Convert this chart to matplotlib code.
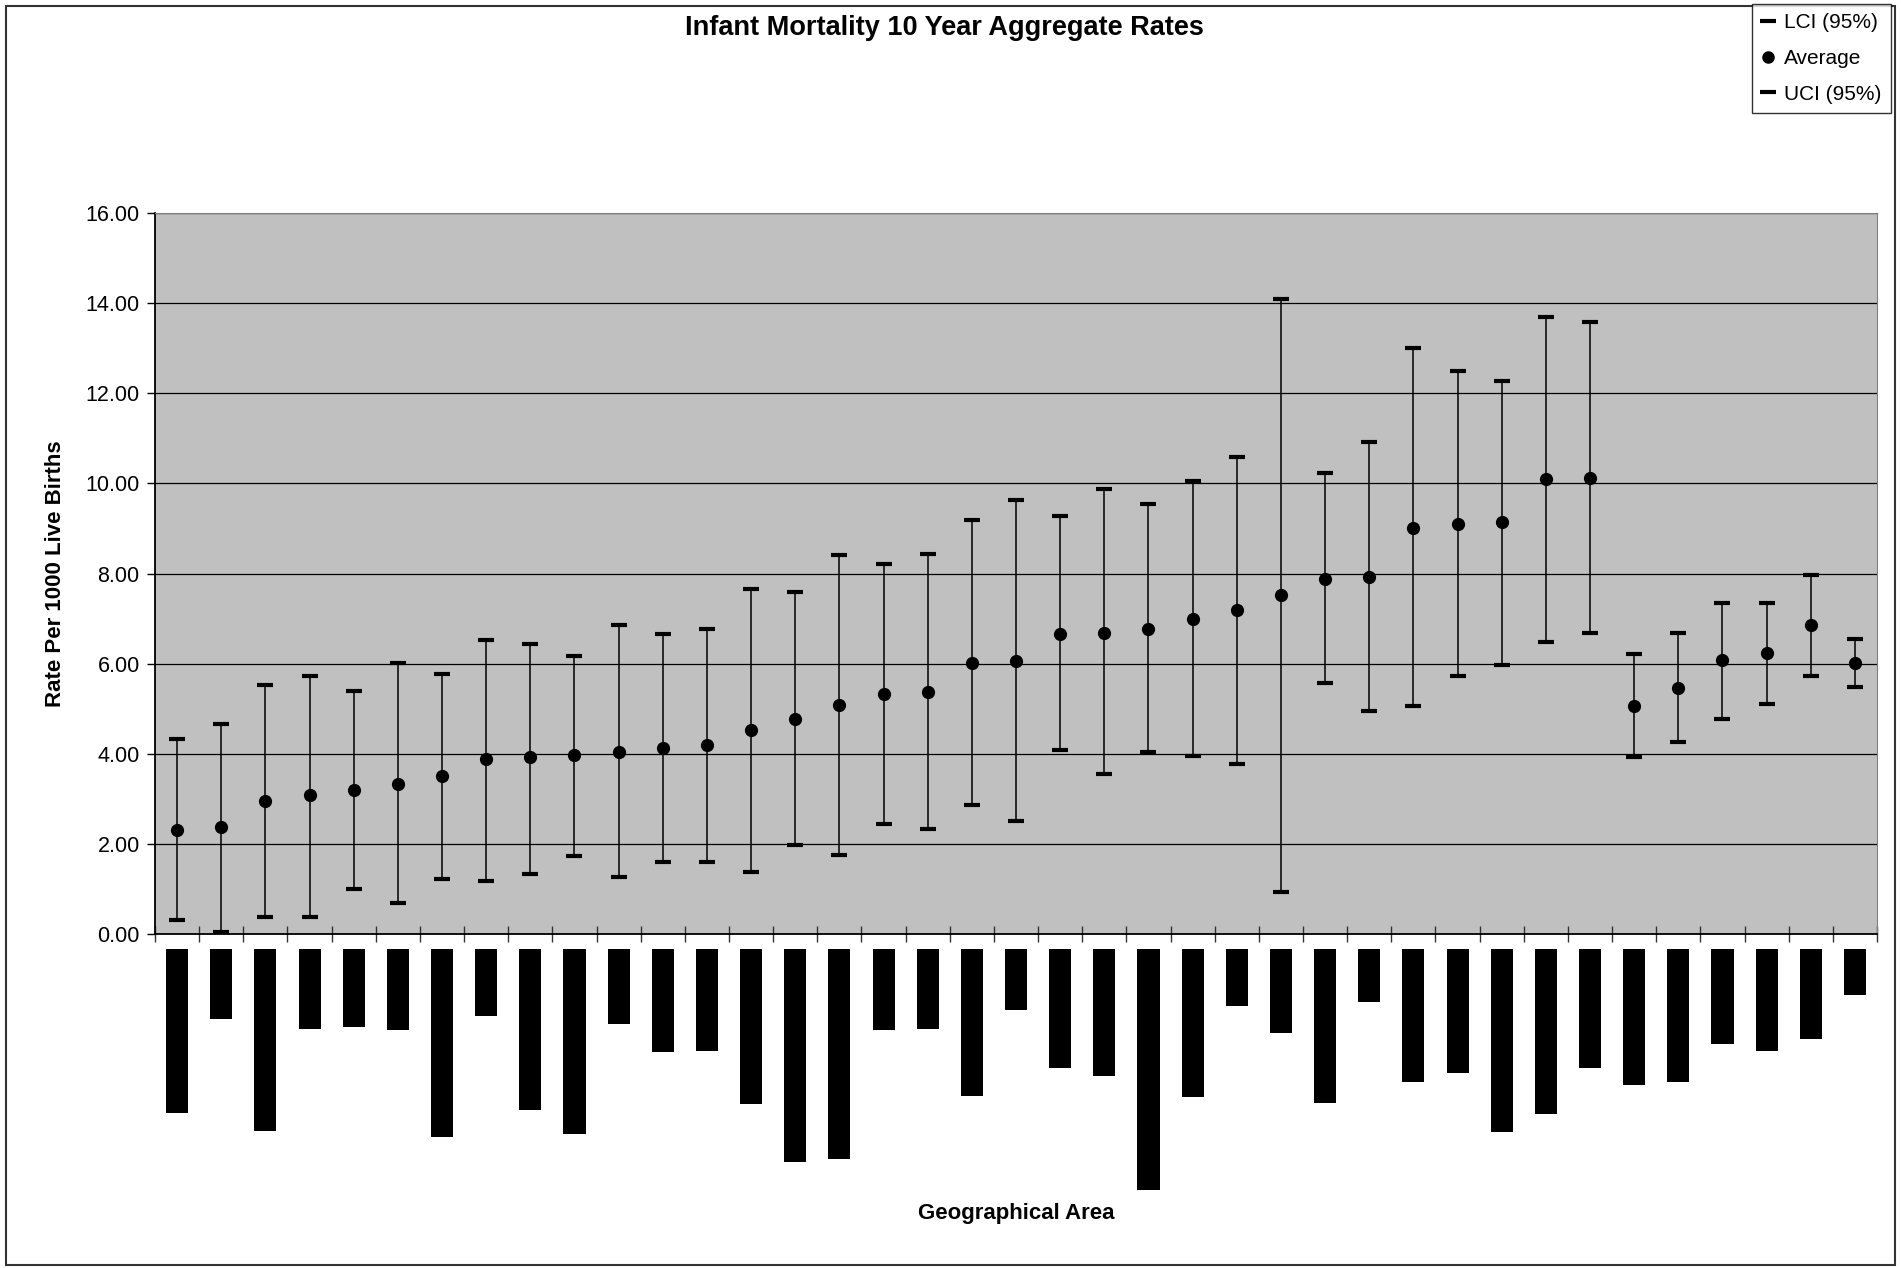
import matplotlib
matplotlib.use('Agg')
import matplotlib.pyplot as plt
from matplotlib.lines import Line2D
from matplotlib.patches import Rectangle
from matplotlib.ticker import FormatStrFormatter, MultipleLocator

plt.rcParams['font.family'] = ['Liberation Sans', 'DejaVu Sans']

# values, one per geographical area (39 areas)
average = [2.30, 2.38, 2.95, 3.08, 3.20, 3.33, 3.50, 3.88, 3.92, 3.97,
           4.03, 4.12, 4.20, 4.53, 4.78, 5.08, 5.32, 5.37, 6.02, 6.05,
           6.65, 6.68, 6.77, 6.98, 7.18, 7.52, 7.88, 7.93, 9.02, 9.10,
           9.15, 10.10, 10.13, 5.07, 5.45, 6.07, 6.23, 6.85, 6.02]
lci = [0.30, 0.05, 0.38, 0.38, 1.00, 0.68, 1.22, 1.18, 1.33, 1.72,
       1.27, 1.60, 1.60, 1.38, 1.97, 1.75, 2.45, 2.33, 2.87, 2.50,
       4.08, 3.55, 4.03, 3.95, 3.78, 0.93, 5.57, 4.95, 5.07, 5.73,
       5.97, 6.48, 6.68, 3.92, 4.25, 4.78, 5.10, 5.73, 5.48]
uci = [4.33, 4.65, 5.53, 5.73, 5.40, 6.02, 5.77, 6.52, 6.43, 6.18,
       6.85, 6.65, 6.77, 7.65, 7.60, 8.40, 8.22, 8.43, 9.18, 9.63,
       9.27, 9.88, 9.55, 10.05, 10.58, 14.10, 10.22, 10.92, 13.00, 12.50,
       12.28, 13.70, 13.58, 6.22, 6.68, 7.35, 7.35, 7.97, 6.55]
# the area names are blacked out in the source; lengths of the black blocks
label_len = [135, 58, 150, 66, 64, 67, 155, 55, 133, 153,
             62, 85, 84, 128, 176, 173, 67, 66, 121, 50,
             98, 105, 199, 122, 47, 69, 127, 44, 110, 102,
             151, 136, 98, 112, 110, 78, 84, 74, 38]

x = list(range(1, len(average) + 1))

fig = plt.figure(figsize=(19.01, 12.68), dpi=100)
W, H = 1901, 1268

# plot area in pixels: left 155, right 1877, top 213, bottom 934
ax = fig.add_axes([155 / W, 1 - 934 / H, (1877 - 155) / W, (934 - 213) / H])
ax.set_facecolor('#C0C0C0')
ax.set_xlim(0.5, len(x) + 0.5)
ax.set_ylim(0, 16)
ax.yaxis.set_major_locator(MultipleLocator(2))
ax.yaxis.set_major_formatter(FormatStrFormatter('%.2f'))
ax.grid(axis='y', color='black', linewidth=0.9)
ax.set_axisbelow(True)

ax.vlines(x, lci, uci, color='black', linewidth=1.1, zorder=3)
ax.plot(x, lci, linestyle='none', marker='_', markersize=11, markeredgewidth=3,
        color='black', zorder=4)
ax.plot(x, uci, linestyle='none', marker='_', markersize=11, markeredgewidth=3,
        color='black', zorder=4)
ax.plot(x, average, linestyle='none', marker='o', markersize=8.5, color='black', zorder=5)

ax.set_xticks([i + 0.5 for i in range(len(x) + 1)])
ax.set_xticklabels([])
ax.tick_params(axis='x', direction='inout', length=12, width=1, color='#333333')
ax.tick_params(axis='y', direction='out', length=6, width=1, labelsize=15.5, pad=5)
for s in ['top', 'right']:
    ax.spines[s].set_color('#808080')
for s in ['left', 'bottom']:
    ax.spines[s].set_color('black')
    ax.spines[s].set_linewidth(1.3)

ax.set_ylabel('Rate Per 1000 Live Births', fontsize=16, fontweight='bold', labelpad=14)

# blacked-out category labels below the axis
lab = fig.add_axes([155 / W, 1 - 1200 / H, (1877 - 155) / W, (1200 - 949) / H])
lab.bar(x, label_len, width=0.5, color='black')
lab.set_xlim(0.5, len(x) + 0.5)
lab.set_ylim(251 / 1.2124, 0)
lab.axis('off')

fig.text(1016 / W, 1 - 1214 / H, 'Geographical Area', ha='center', va='center',
         fontsize=16, fontweight='bold')
fig.text(944 / W, 1 - 28 / H, 'Infant Mortality 10 Year Aggregate Rates',
         ha='center', va='center', fontsize=19.5, fontweight='bold')

# outer chart border
fig.patches.append(Rectangle((6 / W, 3 / H), (1895 - 6) / W, (1262 - 3) / H,
                             transform=fig.transFigure, fill=False,
                             edgecolor='#333333', linewidth=1.5))

handles = [
    Line2D([], [], linestyle='none', marker='_', markersize=11, markeredgewidth=3, color='black'),
    Line2D([], [], linestyle='none', marker='o', markersize=8, color='black'),
    Line2D([], [], linestyle='none', marker='_', markersize=11, markeredgewidth=3, color='black'),
]
leg = fig.legend(handles, ['LCI (95%)', 'Average', 'UCI (95%)'],
                 loc='upper right', bbox_to_anchor=(1891 / W, 1 - 4 / H),
                 fontsize=15, frameon=True, fancybox=False, handlelength=0.6,
                 handletextpad=0.5, labelspacing=0.8, borderpad=0.45,
                 borderaxespad=0)
leg.get_frame().set_edgecolor('black')
leg.get_frame().set_linewidth(1.0)

fig.savefig('out.png', dpi=100)
